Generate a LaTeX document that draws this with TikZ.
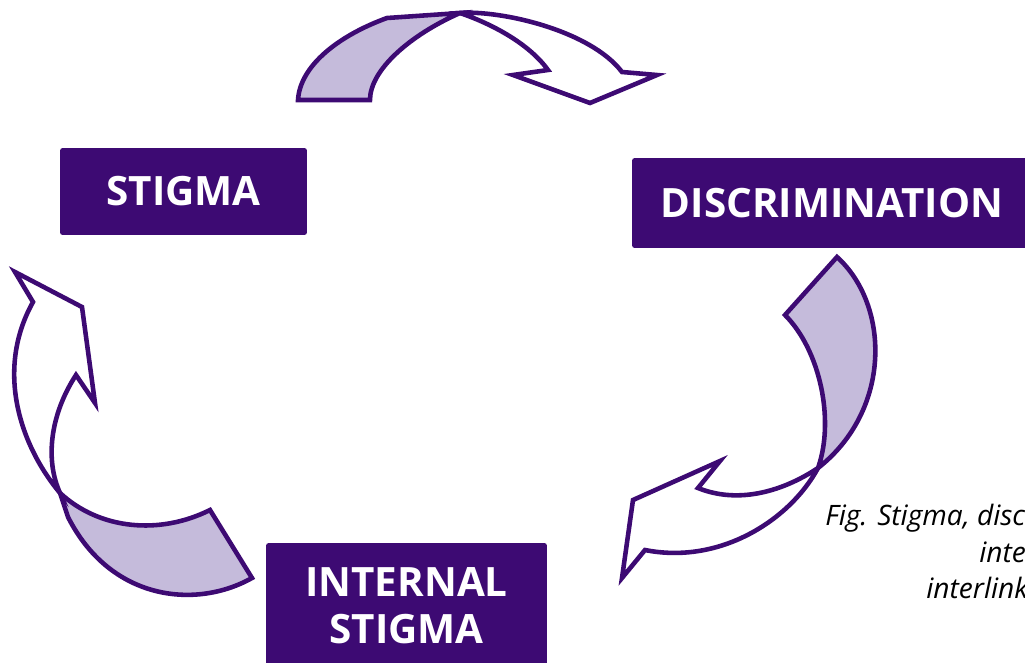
\documentclass[tikz,border=0pt]{standalone}
\usepackage{fontspec}
\setmainfont{Open Sans}
\definecolor{deeppurple}{HTML}{3D0A73}
\definecolor{lilac}{HTML}{C5BBDB}
\tikzset{
    label box/.style={fill=deeppurple,rounded corners=1.5pt,text=white,
        font=\fontsize{23}{27}\selectfont\bfseries,align=center,inner sep=0pt},
    band/.style={draw=deeppurple,line width=2.6pt,fill=lilac},
    head/.style={draw=deeppurple,line width=2.6pt,fill=white},
    caption/.style={anchor=base west,inner sep=0pt,font=\fontsize{16}{20}\selectfont\itshape}
}
\begin{document}
\begin{tikzpicture}[x=0.02cm,y=-0.02cm]
        \useasboundingbox (0,0) rectangle (1025,663);
        \clip (0,0) rectangle (1025,663);
        %% Boxes
        \node[label box,minimum width=4.94cm,minimum height=1.74cm] (stigma) at (183.5,191.5) {STIGMA};
        \node[label box,minimum width=8cm,minimum height=1.8cm] (discrim) at (832,203) {DISCRIMINATION};
        \node[label box,minimum width=5.62cm,minimum height=2.5cm] (internal) at (406.5,605.5) {INTERNAL\\STIGMA};
        %% Top arrow
        \draw[band] (298,100) -- (370,100) .. controls (370,70) and (410,35) .. (460,13)
            -- (387,18) .. controls (340,35) and (300,65) .. (298,100) -- cycle;
        \draw[head] (460,13) .. controls (500,10) and (590,30) .. (622,72) -- (657,75) -- (590,103)
            -- (513,75) -- (548,70) .. controls (530,45) and (495,25) .. (460,13) -- cycle;
        %% Right arrow
        \draw[band] (785,315) -- (837,257) .. controls (890,305) and (892,410) .. (818,468)
            .. controls (835,420) and (820,350) .. (785,315) -- cycle;
        \draw[head] (818,468) .. controls (790,520) and (720,565) .. (645,550) -- (622,578) -- (633,500)
            -- (720,461) -- (698,488) .. controls (740,505) and (785,490) .. (818,468) -- cycle;
        %% Left arrow
        \draw[band] (60,493) .. controls (100,530) and (160,535) .. (210,510) -- (252,578)
            .. controls (195,610) and (110,600) .. (68,517) -- cycle;
        \draw[head] (60,493) .. controls (20,445) and (-5,370) .. (33,302) -- (15,272) -- (82,307)
            -- (95,403) -- (76,375) .. controls (50,415) and (45,460) .. (60,493) -- cycle;
        %% Caption
        \node[caption] (capA) at (825,525) {Fig. Stigma, discrimination and};
        \node[caption] (capB) at (979,562) {internal stigma are};
        \node[caption] (capC) at (926,598) {interlinked};
    \end{tikzpicture}
\end{document}
